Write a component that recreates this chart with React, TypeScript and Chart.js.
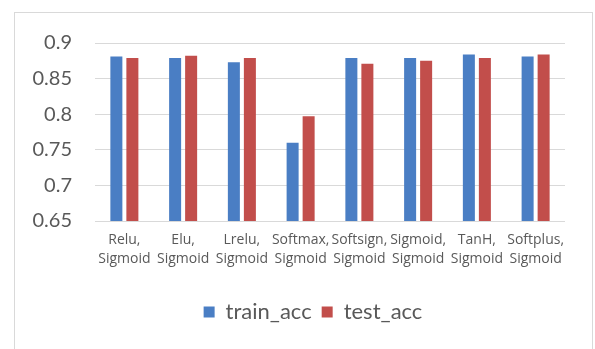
import React, { useEffect, useRef } from "react";
import { Chart, registerables } from "chart.js";

Chart.register(...registerables);

const categories: string[][] = [
  ["Relu,", "Sigmoid"],
  ["Elu,", "Sigmoid"],
  ["Lrelu,", "Sigmoid"],
  ["Softmax,", "Sigmoid"],
  ["Softsign,", "Sigmoid"],
  ["Sigmoid,", "Sigmoid"],
  ["TanH,", "Sigmoid"],
  ["Softplus,", "Sigmoid"],
];
const trainAcc = [0.881, 0.879, 0.873, 0.76, 0.879, 0.879, 0.884, 0.881];
const testAcc = [0.879, 0.882, 0.879, 0.797, 0.871, 0.875, 0.879, 0.884];
const yTickLabels = ["0.65", "0.7", "0.75", "0.8", "0.85", "0.9"];
const yMin = 0.65;
const yMax = 0.9;
const yStep = 0.05;

const FONT = "Lato, 'Open Sans', sans-serif";

export default function App() {
  const ref = useRef<HTMLCanvasElement | null>(null);
  useEffect(() => {
    if (!ref.current) return;
    const chart = new Chart(ref.current, {
      type: "bar",
      data: {
        labels: categories,
        datasets: [
          { label: "train_acc", data: trainAcc, backgroundColor: "#4A7EC4" },
          { label: "test_acc", data: testAcc, backgroundColor: "#C24E4B" },
        ],
      },
      options: {
        animation: false,
        responsive: false,
        layout: { padding: { left: 61, right: 30, top: 43, bottom: 16 } },
        datasets: { bar: { categoryPercentage: 0.545, barPercentage: 0.75 } },
        scales: {
          x: {
            grid: { display: false, drawTicks: false },
            border: { display: false },
            ticks: {
              color: "#595959",
              padding: 10,
              font: { family: "'Open Sans', sans-serif", size: 14, lineHeight: 1.35 },
              maxRotation: 0,
              autoSkip: false,
            },
            afterFit: (s: any) => {
              s.height = 70;
            },
          },
          y: {
            min: yMin,
            max: yMax,
            grid: { color: "#d9d9d9", drawTicks: false, lineWidth: 1 },
            border: { display: false },
            ticks: {
              stepSize: yStep,
              color: "#595959",
              padding: 23,
              font: { family: FONT, size: 20 },
              callback: (_v: any, i: number) => yTickLabels[i],
            },
            afterFit: (s: any) => {
              s.width = 34;
              s._computeLabelArea = () => undefined;
            },
          },
        },
        plugins: {
          tooltip: { enabled: false },
          legend: {
            position: "bottom",
            labels: {
              boxWidth: 11,
              boxHeight: 11,
              padding: 10,
              color: "#595959",
              font: { family: FONT, size: 22 },
            },
          },
        },
      },
    });
    return () => chart.destroy();
  }, []);
  return (
    <div style={{ position: "absolute", left: 0, top: 0, width: 595, height: 349, background: "#fff", overflow: "hidden" }}>
      <div
        style={{
          position: "absolute",
          left: 14,
          top: 12,
          width: 577,
          height: 340,
          borderTop: "1px solid #d9d9d9",
          borderLeft: "1px solid #d9d9d9",
          borderRight: "1px solid #d9d9d9",
        }}
      />
      <canvas ref={ref} width={595} height={349} style={{ position: "absolute", left: 0, top: 0 }} />
    </div>
  );
}
